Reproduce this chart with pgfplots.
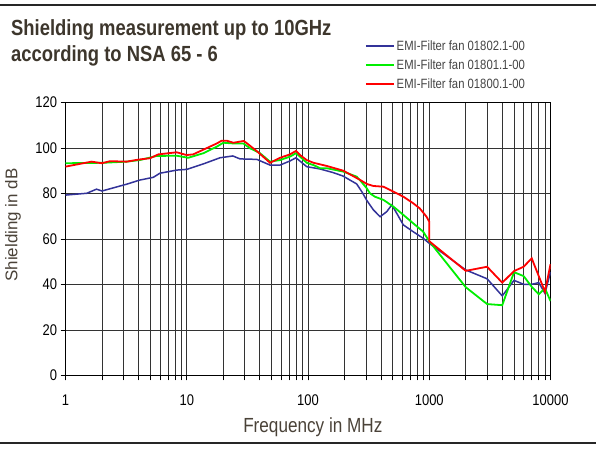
\documentclass[border=0pt]{standalone}
\usepackage{pgfplots}
\pgfplotsset{compat=1.18}
\usepackage{fontspec}
\setmainfont{Liberation Sans}
\newfontfamily\condfont[FakeStretch=0.84]{Liberation Sans}
\definecolor{titlecol}{HTML}{3D362C}
\definecolor{labcol}{HTML}{4A4238}
\definecolor{legcol}{HTML}{444444}
\definecolor{navy}{HTML}{333399}
\definecolor{lime}{HTML}{00EE00}
\definecolor{bright red}{HTML}{FF0000}

\begin{document}
\begin{tikzpicture}[x=1bp,y=1bp]
\useasboundingbox (-65.5,-74.5) rectangle (530.5,375.5);
% frame rules
\draw[line width=2bp, black!85] (-65.5,370) -- (530.5,370);
\draw[line width=2bp, black!85] (-65.5,-67.5) -- (530.5,-67.5);
% title
\node[anchor=base west, inner sep=0, text=titlecol, font=\condfont\bfseries\fontsize{22}{24}\selectfont]
  at (-54.5,339.5) {Shielding measurement up to 10GHz};
\node[anchor=base west, inner sep=0, text=titlecol, font=\condfont\bfseries\fontsize{22}{24}\selectfont]
  at (-54.5,313.5) {according to NSA 65 - 6};

\begin{axis}[
    at={(0,0)}, anchor=south west,
    scale only axis,
    width=485bp, height=273bp,
    xmode=log,
    xmin=1, xmax=10000,
    ymin=0, ymax=120,
    xtick={1,10,100,1000,10000},
    xticklabels={1,10,100,1000,10000},
    ytick={0,20,40,60,80,100,120},
    yticklabels={0,20,40,60,80,100,120},
    grid=both,
    major grid style={black!80, line width=0.7bp},
    minor grid style={black!80, line width=0.7bp},
    axis line style={black, line width=0.8bp},
    tick align=outside,
    tick pos=left,
    major tick length=5bp,
    minor tick length=5bp,
    tick style={black, line width=0.7bp},
    ticklabel style={font=\condfont\fontsize{15.5}{17}\selectfont, text=black},
    xticklabel style={yshift=-10.5bp},
    xlabel={Frequency in MHz},
    ylabel={Shielding in dB},
    x label style={at={(axis description cs:0.51,-0.1886)}, anchor=center,
        text=labcol, font=\condfont\fontsize{20.5}{23}\selectfont},
    y label style={at={(axis description cs:-0.108,0.551)}, anchor=center,
        text=labcol, font=\fontsize{17}{20}\selectfont},
    legend style={at={(axis description cs:0.617,1.236)}, anchor=north west,
        draw=none, fill=none,
        font=\condfont\fontsize{13.5}{15}\selectfont,
        row sep=4bp, inner sep=0pt},
    legend cell align=left,
    legend image code/.code={\draw[#1] (0bp,0bp) -- (28bp,0bp);},
]
\addplot[navy, line width=1.5bp] coordinates {
(1,79.3) (1.5,80.1) (1.8,81.9) (2.0,81.1) (3.2,84.1) (4.1,85.9) (5.3,87.1)
(6.0,88.9) (8.3,90.3) (10,90.6) (13.7,93.0) (18.8,95.7) (24,96.5) (27.5,95.2)
(37.8,95.0) (48.6,92.5) (58.9,92.5) (71,94.3) (79.6,95.7) (97.5,91.8)
(125,90.8) (161,89.2) (194,87.7) (252,84.2) (280,80.5) (305,77) (346,72.8)
(393,69.8) (446,72) (491,75) (539,71.3) (611,66.2) (737,63.2) (892,60.3)
(1000,58.1) (2000,46.4) (3000,42.5) (4000,35.0) (5000,41.8) (6000,40.1)
(7000,40.1) (8000,40.8) (9000,36.1) (10000,45.5)
};
\addlegendentry{\textcolor{legcol}{EMI-Filter fan 01802.1-00}}
\addplot[lime, line width=1.8bp] coordinates {
(1,93.3) (2.05,93.5) (3.2,94) (4.1,94.7) (5.65,96.5) (8.26,96.6) (10.3,95.7)
(13.7,97.7) (17.7,100.6) (20,102.3) (24.2,102) (29.3,102) (33.2,99.9)
(40.2,97.7) (48.6,94) (58.9,94.7) (71,96.2) (79.6,97.7) (86,96.2) (97.5,93.5)
(111,92.5) (126,91.1) (143,91.1) (196,89.6) (252,87.4) (268,85.9) (305,82.3)
(324,80.1) (356,78.6) (418,77.2) (507,74.2) (611,70.6) (737,66.9) (892,63.2)
(1000,59) (2000,38.8) (3000,31.4) (4000,30.9) (5000,45.4) (6000,43.7)
(7000,39) (8000,35.7) (9000,38.3) (10000,32.7)
};
\addlegendentry{\textcolor{legcol}{EMI-Filter fan 01801.1-00}}
\addplot[bright red, line width=1.8bp] coordinates {
(1,91.8) (1.64,94) (1.99,93.3) (2.33,94.2) (3.2,94) (4.0,94.9) (4.98,95.5)
(5.83,97.2) (8.26,98.1) (10,96.9) (11.3,97.2) (17.7,102) (19.4,103.2)
(21.4,103.2) (24.2,102.3) (29.6,103.1) (37.7,98.7) (48.6,93.5) (58.9,95.7)
(71,97.2) (79.6,98.7) (86,96.9) (97.5,94.7) (111,93.5) (143,92.1) (196,90)
(268,86) (305,84.2) (346,83.3) (418,83) (507,80.8) (611,78.6) (737,75.7)
(833,73.5) (950,69.8) (1000,67.6) (1000,59) (2000,46) (3000,47.8)
(4000,40.8) (5000,45.9) (6000,47.8) (7000,51.5) (9000,36.8) (10000,48.9)
};
\addlegendentry{\textcolor{legcol}{EMI-Filter fan 01800.1-00}}
\end{axis}
\end{tikzpicture}
\end{document}
